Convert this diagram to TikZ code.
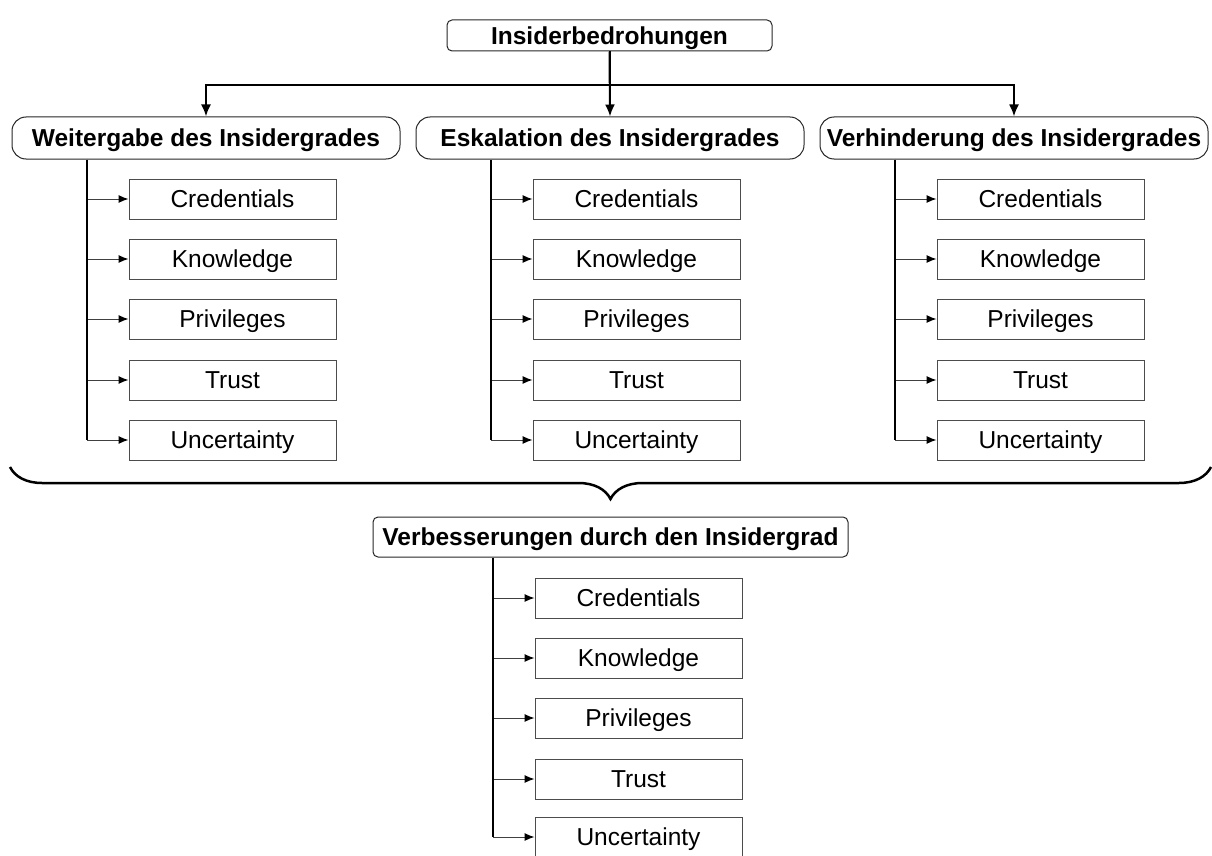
\documentclass[tikz,border=0pt]{standalone}
\usepackage{fontspec}
\setmainfont{Liberation Sans}
\usetikzlibrary{arrows.meta,decorations.pathreplacing}
\begin{document}
\begin{tikzpicture}[x=1pt,y=-1pt,
  font=\fontsize{24.5}{29}\selectfont,
  leaf/.style={draw=black!70, line width=1pt, minimum width=207pt, minimum height=40pt, inner sep=0pt, text height=17.6pt, text depth=0pt},
  cat/.style={draw=black!85, line width=1pt, rounded corners=14pt, minimum width=388pt, minimum height=42pt, inner sep=0pt, text height=17.6pt, text depth=0pt, font=\fontsize{24.5}{29}\selectfont\bfseries},
  head/.style={draw=black!85, line width=1pt, rounded corners=5pt, inner sep=0pt, text height=17.6pt, text depth=0pt, font=\fontsize{24.5}{29}\selectfont\bfseries},
  trunk/.style={line width=2pt},
  branch/.style={draw=black!75, line width=1pt, -{Latex[length=10pt,width=8pt,black]}},
  down/.style={line width=2pt, -{Latex[length=12pt,width=10pt]}}
]
\useasboundingbox (0,0) rectangle (1212,856);

% root
\node[head, minimum width=325pt, minimum height=31pt] (root) at (609.5,35.5) {Insiderbedrohungen};

% three categories
\node[cat] (c1) at (206,138) {Weitergabe des Insidergrades};
\node[cat] (c2) at (610,138) {Eskalation des Insidergrades};
\node[cat] (c3) at (1014,138) {Verhinderung des Insidergrades};

\draw[down] (root.south) -- (c2.north);
\draw[down] (root.south) -- ++(0,34) -| (c1.north);
\draw[down] (root.south) -- ++(0,34) -| (c3.north);

% leaf lists under each category
\foreach \c/\t in {c1/87, c2/491, c3/895} {
  \coordinate (\c-r) at (\t,0);
  \foreach \i/\lab/\y in {1/Credentials/199, 2/Knowledge/259, 3/Privileges/319, 4/Trust/380, 5/Uncertainty/440} {
    \node[leaf] (\c-\i) at (\t+145.5,\y) {\lab};
    \draw[branch] (\c-\i.west -| \c-r) -- (\c-\i.west);
  }
  \draw[trunk] (\c.south -| \c-r) -- (\c-5.west -| \c-r);
}

% summarising brace
\draw[line width=2.5pt, decorate, decoration={brace, mirror, amplitude=32pt}] (10,467) -- (1211,467);

% improvements
\node[head, minimum width=475pt, minimum height=40pt] (imp) at (610.5,537) {Verbesserungen durch den Insidergrad};
\coordinate (imp-r) at (493,0);
\foreach \i/\lab/\y in {1/Credentials/598, 2/Knowledge/658, 3/Privileges/718, 4/Trust/779, 5/Uncertainty/837} {
  \node[leaf] (imp-\i) at (638.5,\y) {\lab};
  \draw[branch] (imp-\i.west -| imp-r) -- (imp-\i.west);
}
\draw[trunk] (imp.south -| imp-r) -- (imp-5.west -| imp-r);
\end{tikzpicture}
\end{document}
